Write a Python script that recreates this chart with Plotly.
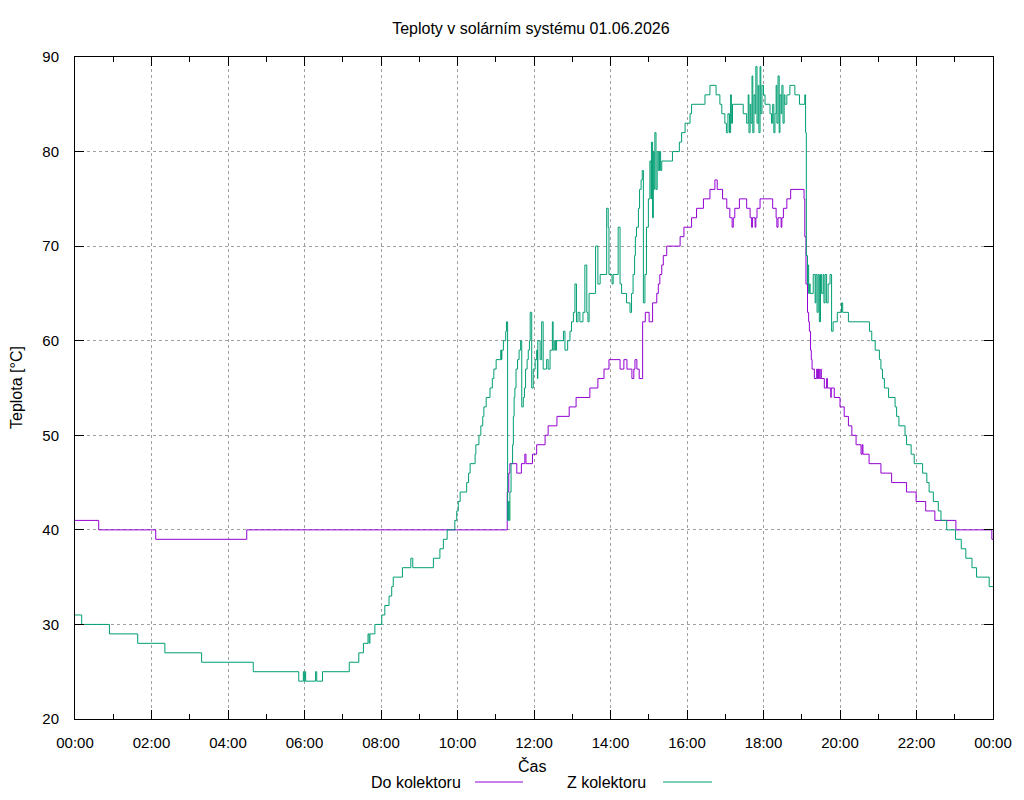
import pandas as pd
import plotly.graph_objects as go

TITLE = "Teploty v solárním systému 01.06.2026"
DAY = "2026-06-01"
X_LABEL = "Čas"
Y_LABEL = "Teplota [°C]"
SERIES_NAMES = ["Do kolektoru", "Z kolektoru"]
COLORS = ["#9400d3", "#009e73"]
Y_TICKS = [20, 30, 40, 50, 60, 70, 80, 90]

# "Do kolektoru" – start time of each step (hours) and temperature (°C)
do_hours = [
    0.0, 0.62, 2.11, 4.49, 11.30, 11.34, 11.37, 11.55, 11.67, 11.76,
    11.79, 11.96, 12.07, 12.29, 12.37, 12.60, 12.92, 13.10, 13.46, 13.67,
    13.83, 13.96, 14.25, 14.35, 14.43, 14.56, 14.61, 14.64, 14.69, 14.75,
    14.84, 14.91, 15.01, 15.10, 15.21, 15.25, 15.29, 15.34, 15.38, 15.47,
    15.82, 15.92, 16.12, 16.25, 16.43, 16.60, 16.73, 16.79, 16.93, 17.04,
    17.12, 17.18, 17.21, 17.25, 17.37, 17.56, 17.65, 17.69, 17.71, 17.78,
    17.80, 17.83, 17.91, 18.24, 18.33, 18.35, 18.38, 18.46, 18.48, 18.52,
    18.61, 18.71, 19.06, 19.08, 19.11, 19.15, 19.18, 19.20, 19.23, 19.25,
    19.27, 19.33, 19.39, 19.41, 19.44, 19.46, 19.50, 19.51, 19.59, 19.65,
    19.67, 19.76, 19.77, 19.85, 20.00, 20.11, 20.22, 20.31, 20.42, 20.55,
    20.58, 20.60, 20.76, 21.07, 21.35, 21.74, 21.99, 22.24, 22.48, 23.03,
    23.97, 24.0,
]
do_temp = [
    41, 40, 39, 40, 44, 46, 47, 46, 47, 48,
    47, 48, 49, 50, 51, 52, 53, 54, 55, 56,
    57, 58, 57, 58, 57, 56, 57, 58, 57, 56,
    62, 63, 62, 64, 65, 66, 67, 68, 69, 70,
    71, 72, 73, 74, 75, 76, 77, 76, 75, 74,
    73, 72, 73, 74, 75, 74, 73, 72, 73, 72,
    73, 74, 75, 74, 73, 72, 73, 72, 73, 74,
    75, 76, 75, 71, 66, 63, 62, 61, 59, 58,
    57, 56, 57, 56, 57, 56, 57, 56, 55, 56,
    55, 54, 55, 54, 53, 52, 51, 50, 49, 48,
    49, 48, 47, 46, 45, 44, 43, 42, 41, 40,
    39, 39,
]

# "Z kolektoru" – start time of each step (hours) and temperature (°C)
z_hours = [
    0.0, 0.175, 0.90, 1.64, 2.35, 3.31, 4.66, 5.85, 5.97, 5.99,
    6.01, 6.03, 6.29, 6.32, 6.47, 7.17, 7.42, 7.54, 7.66, 7.69,
    7.71, 7.84, 8.02, 8.10, 8.21, 8.28, 8.32, 8.56, 8.78, 8.83,
    9.37, 9.54, 9.63, 9.73, 9.93, 9.98, 10.02, 10.07, 10.24, 10.29,
    10.33, 10.46, 10.48, 10.56, 10.61, 10.66, 10.69, 10.75, 10.85, 10.91,
    10.95, 11.01, 11.13, 11.15, 11.16, 11.20, 11.26, 11.28, 11.31, 11.33,
    11.35, 11.37, 11.40, 11.44, 11.46, 11.48, 11.50, 11.53, 11.57, 11.61,
    11.65, 11.68, 11.72, 11.75, 11.78, 11.82, 11.85, 11.88, 11.90, 11.94,
    11.98, 12.03, 12.07, 12.09, 12.10, 12.16, 12.20, 12.24, 12.33, 12.37,
    12.42, 12.48, 12.50, 12.53, 12.56, 12.59, 12.77, 12.81, 12.88, 12.94,
    12.98, 13.03, 13.07, 13.11, 13.15, 13.20, 13.28, 13.33, 13.38, 13.41,
    13.44, 13.61, 13.67, 13.73, 13.90, 13.94, 13.96, 14.04, 14.07, 14.20,
    14.25, 14.29, 14.42, 14.51, 14.55, 14.59, 14.63, 14.65, 14.68, 14.73,
    14.76, 14.80, 14.83, 14.86, 14.90, 14.94, 14.99, 15.03, 15.06, 15.07,
    15.10, 15.12, 15.14, 15.16, 15.19, 15.22, 15.25, 15.28, 15.31, 15.34,
    15.62, 15.80, 15.86, 15.95, 16.08, 16.12, 16.47, 16.60, 16.76, 16.86,
    16.91, 16.99, 17.03, 17.07, 17.11, 17.14, 17.16, 17.19, 17.47, 17.56,
    17.60, 17.62, 17.65, 17.67, 17.70, 17.72, 17.75, 17.78, 17.80, 17.83,
    17.86, 17.88, 17.91, 17.93, 17.96, 18.00, 18.04, 18.17, 18.21, 18.24,
    18.27, 18.30, 18.33, 18.35, 18.38, 18.41, 18.43, 18.46, 18.48, 18.51,
    18.54, 18.56, 18.61, 18.69, 18.82, 18.94, 19.08, 19.10, 19.12, 19.15,
    19.16, 19.18, 19.20, 19.22, 19.30, 19.35, 19.37, 19.40, 19.43, 19.46,
    19.49, 19.52, 19.56, 19.58, 19.61, 19.65, 19.69, 19.74, 19.78, 19.82,
    19.93, 20.04, 20.07, 20.22, 20.77, 20.83, 20.92, 21.03, 21.07, 21.11,
    21.16, 21.27, 21.44, 21.48, 21.54, 21.70, 21.74, 21.86, 21.94, 22.16,
    22.27, 22.33, 22.44, 22.57, 22.64, 22.79, 23.02, 23.17, 23.29, 23.45,
    23.57, 23.90, 24.0,
]
z_temp = [
    31, 30, 29, 28, 27, 26, 25, 24, 25, 24,
    25, 24, 25, 24, 25, 26, 27, 28, 29, 28,
    29, 30, 31, 32, 33, 34, 35, 36, 37, 36,
    37, 38, 39, 40, 41, 42, 43, 44, 45, 46,
    47, 48, 49, 50, 51, 52, 53, 54, 55, 56,
    57, 58, 59, 58, 59, 60, 61, 62, 41, 43,
    41, 44, 47, 49, 52, 54, 55, 57, 58, 59,
    60, 53, 54, 55, 57, 58, 59, 60, 63, 55,
    57, 58, 59, 56, 60, 58, 62, 57, 58, 57,
    59, 62, 59, 60, 59, 60, 61, 59, 60, 61,
    62, 63, 66, 62, 63, 62, 63, 68, 63, 62,
    65, 70, 66, 67, 74, 72, 67, 66, 67, 72,
    66, 65, 64, 63, 65, 67, 69, 71, 72, 74,
    76, 77, 78, 64, 67, 72, 75, 79, 75, 81,
    73, 80, 76, 82, 76, 80, 78, 80, 78, 79,
    80, 81, 82, 83, 84, 85, 86, 87, 86, 85,
    84, 83, 82, 84, 82, 86, 83, 85, 84, 83,
    86, 82, 85, 83, 88, 82, 86, 84, 89, 83,
    87, 82, 89, 84, 87, 86, 85, 84, 83, 85,
    82, 84, 87, 83, 88, 82, 86, 84, 87, 83,
    86, 85, 86, 87, 86, 85, 86, 82, 69, 66,
    68, 65, 66, 65, 67, 64, 67, 63, 67, 62,
    67, 65, 67, 64, 67, 64, 66, 67, 61, 62,
    63, 64, 63, 62, 61, 60, 59, 58, 57, 56,
    55, 54, 53, 52, 51, 50, 49, 48, 47, 46,
    45, 44, 43, 42, 41, 40, 39, 38, 37, 36,
    35, 34, 34,
]

start = pd.Timestamp(DAY)
end = start + pd.Timedelta(hours=24)


def to_time(hours):
    return [start + pd.Timedelta(hours=h) for h in hours]


FONT = "Liberation Sans, Arial, sans-serif"
TEXT_SIZE = 16

fig = go.Figure()
for name, hrs, vals, col in [
    (SERIES_NAMES[0], do_hours, do_temp, COLORS[0]),
    (SERIES_NAMES[1], z_hours, z_temp, COLORS[1]),
]:
    fig.add_trace(go.Scatter(
        x=to_time(hrs), y=vals, name=name, mode="lines",
        line=dict(color=col, width=1, shape="hv"),
        showlegend=False,
    ))

fig.update_layout(
    width=1024, height=800,
    margin=dict(l=75, r=31, t=57, b=81, autoexpand=False),
    paper_bgcolor="white", plot_bgcolor="white",
    font=dict(family=FONT, size=15, color="black"),
    title=dict(text=TITLE, x=(75 + 993) / 2 / 1024 - 0.003, xanchor="center",
               y=1 - 28 / 800, yanchor="middle",
               font=dict(family=FONT, size=TEXT_SIZE, color="black")),
)

fig.update_xaxes(
    type="date", range=[start, end],
    dtick=2 * 3600 * 1000, tick0=start, tickformat="%H:%M",
    showline=True, linecolor="black", linewidth=1, mirror="allticks",
    ticks="inside", ticklen=9, tickcolor="black", tickwidth=1,
    ticklabelstandoff=10,
    showgrid=True, gridcolor="#a0a0a0", griddash="dot", gridwidth=1,
    minor=dict(dtick=3600 * 1000, ticks="inside", ticklen=5,
               tickcolor="black", showgrid=False),
    zeroline=False, automargin=False,
)
fig.update_yaxes(
    range=[20, 90], tickvals=Y_TICKS,
    showline=True, linecolor="black", linewidth=1, mirror="allticks",
    ticks="inside", ticklen=9, tickcolor="black", tickwidth=1,
    ticklabelstandoff=12,
    showgrid=True, gridcolor="#a0a0a0", griddash="dot", gridwidth=1,
    zeroline=False, automargin=False,
)

# axis titles
fig.add_annotation(text=X_LABEL, xref="paper", yref="paper",
                   x=(532 - 75) / 918, y=(719 - 766) / 662,
                   xanchor="center", yanchor="middle", showarrow=False,
                   font=dict(family=FONT, size=TEXT_SIZE, color="black"))
fig.add_annotation(text=Y_LABEL, xref="paper", yref="paper",
                   x=(16 - 75) / 918, y=(719 - 388) / 662, textangle=-90,
                   xanchor="center", yanchor="middle", showarrow=False,
                   font=dict(family=FONT, size=TEXT_SIZE, color="black"))

# gnuplot-style legend below the plot: text followed by a line sample
legend_items = [
    (SERIES_NAMES[0], COLORS[0], 463, 475, 523),
    (SERIES_NAMES[1], COLORS[1], 648, 663, 712),
]
ly = (719 - 782) / 662
for name, col, text_right, l0, l1 in legend_items:
    fig.add_annotation(text=name, xref="paper", yref="paper",
                       x=(text_right - 75) / 918, y=ly,
                       xanchor="right", yanchor="middle", showarrow=False,
                       font=dict(family=FONT, size=TEXT_SIZE, color="black"))
    fig.add_shape(type="line", xref="paper", yref="paper",
                  x0=(l0 - 75) / 918, x1=(l1 - 75) / 918, y0=ly, y1=ly,
                  line=dict(color=col, width=1))

fig.write_html("out.html")
